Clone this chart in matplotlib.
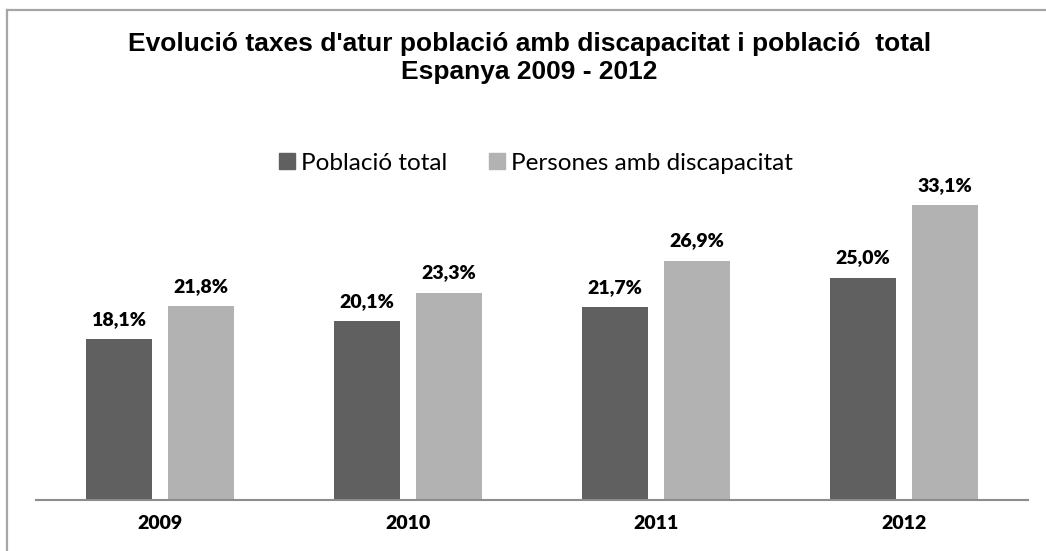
import numpy as np
import matplotlib.pyplot as plt
from matplotlib.lines import Line2D

# Data
years = ['2009', '2010', '2011', '2012']
poblacio_total = [18.1, 20.1, 21.7, 25.0]
persones_discapacitat = [21.8, 23.3, 26.9, 33.1]
series_names = ['Població total', 'Persones amb discapacitat']
title_lines = ["Evolució taxes d'atur població amb discapacitat i població  total",
               "Espanya 2009 - 2012"]
colors = ['#606060', '#B2B2B2']

W, H = 1046, 551
fig = plt.figure(figsize=(W / 100, H / 100), dpi=100)

# axes placed in pixel terms of the reference
ax = fig.add_axes([36 / W, 51 / H, (1028 - 36) / W, 311.5 / H])

x = np.arange(len(years))
width = 0.266
offset = 0.166
b1 = ax.bar(x - offset, poblacio_total, width, color=colors[0], label=series_names[0])
b2 = ax.bar(x + offset, persones_discapacitat, width, color=colors[1], label=series_names[1])

for bars, vals in [(b1, poblacio_total), (b2, persones_discapacitat)]:
    for rect, v in zip(bars, vals):
        ax.annotate(f'{v:.1f}%'.replace('.', ','),
                    (rect.get_x() + rect.get_width() / 2, rect.get_height()),
                    xytext=(0, 8), textcoords='offset points',
                    ha='center', va='bottom', fontsize=14, fontweight='heavy',
                    family='Lato', color='black')

ax.set_xlim(-0.5, 3.5)
ax.set_ylim(0, 35)
ax.set_xticks(x)
ax.set_xticklabels(years, fontsize=14, fontweight='heavy', family='Lato')
ax.tick_params(axis='x', length=0, pad=11)
ax.set_yticks([])
for s in ['top', 'right', 'left']:
    ax.spines[s].set_visible(False)
ax.spines['bottom'].set_color('#8C8C8C')
ax.spines['bottom'].set_linewidth(1.5)

# title, two centred lines
for txt, ypx in zip(title_lines, [44, 72]):
    fig.text(0.506, 1 - ypx / H, txt, ha='center', va='center', fontsize=19,
             fontweight='bold', family='Liberation Sans')

# legend
handles = [plt.Rectangle((0, 0), 1, 1, color=c) for c in colors]
fig.legend(handles, series_names, loc='center', bbox_to_anchor=(536 / W, 1 - 163 / H),
           ncol=2, frameon=False, prop={'family': 'Lato', 'size': 17.5},
           handlelength=0.65, handleheight=0.65, handletextpad=0.25, columnspacing=1.7)

# outer chart border (left and top visible)
fig.add_artist(Line2D([7 / W, 7 / W], [0, 1 - 10 / H], transform=fig.transFigure,
                      color='#A6A6A6', lw=1.6))
fig.add_artist(Line2D([7 / W, 1], [1 - 10 / H, 1 - 10 / H], transform=fig.transFigure,
                      color='#A6A6A6', lw=1.6))

fig.savefig('out.png', dpi=100)
